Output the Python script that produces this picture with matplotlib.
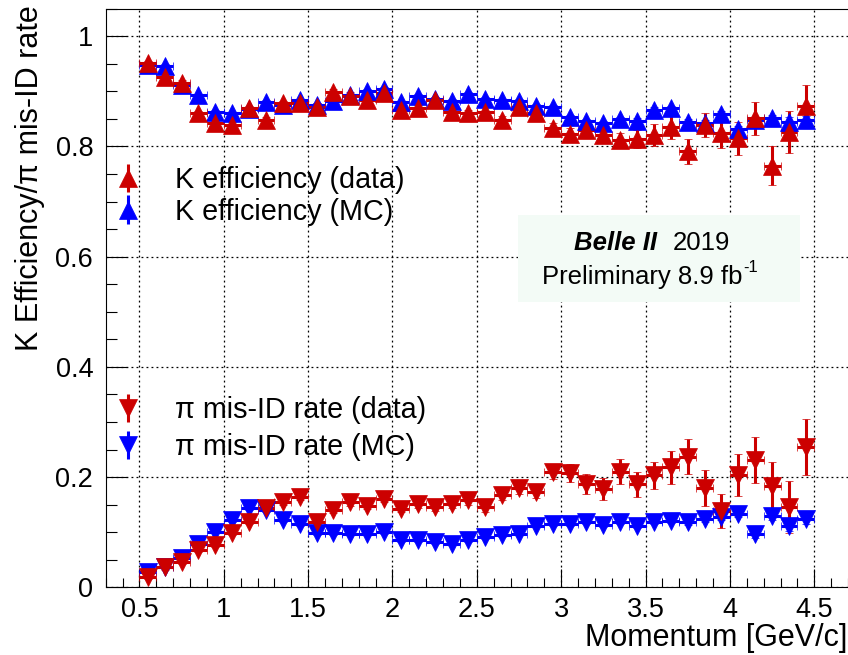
import matplotlib
matplotlib.use("Agg")
import matplotlib.pyplot as plt
from matplotlib.patches import Rectangle
from matplotlib.ticker import MultipleLocator, FixedLocator

plt.rcParams['font.family'] = ['Liberation Sans', 'DejaVu Sans']

# Momentum bin centres [GeV/c], bin width 0.1
momentum = [0.55, 0.65, 0.75, 0.85, 0.95, 1.05, 1.15, 1.25, 1.35, 1.45,
            1.55, 1.65, 1.75, 1.85, 1.95, 2.05, 2.15, 2.25, 2.35, 2.45,
            2.55, 2.65, 2.75, 2.85, 2.95, 3.05, 3.15, 3.25, 3.35, 3.45,
            3.55, 3.65, 3.75, 3.85, 3.95, 4.05, 4.15, 4.25, 4.35, 4.45]
bin_half_width = 0.05

k_eff_data = [0.951, 0.926, 0.915, 0.860, 0.842, 0.839, 0.869, 0.848, 0.878, 0.879,
              0.872, 0.899, 0.892, 0.884, 0.897, 0.866, 0.869, 0.884, 0.863, 0.860,
              0.863, 0.848, 0.872, 0.860, 0.834, 0.823, 0.829, 0.821, 0.811, 0.814,
              0.820, 0.836, 0.791, 0.839, 0.825, 0.815, 0.851, 0.765, 0.827, 0.874]
k_eff_data_err = [0.005, 0.005, 0.005, 0.005, 0.005, 0.005, 0.005, 0.005, 0.005, 0.005,
                  0.006, 0.006, 0.006, 0.006, 0.006, 0.006, 0.006, 0.006, 0.006, 0.006,
                  0.008, 0.008, 0.008, 0.008, 0.009, 0.010, 0.011, 0.012, 0.014, 0.016,
                  0.020, 0.023, 0.023, 0.022, 0.027, 0.030, 0.030, 0.035, 0.038, 0.037]

k_eff_mc = [0.948, 0.946, 0.912, 0.893, 0.863, 0.860, 0.868, 0.881, 0.876, 0.884,
            0.876, 0.883, 0.893, 0.901, 0.905, 0.880, 0.892, 0.886, 0.883, 0.895,
            0.886, 0.884, 0.883, 0.874, 0.871, 0.854, 0.846, 0.842, 0.850, 0.847,
            0.866, 0.869, 0.845, 0.843, 0.859, 0.832, 0.848, 0.851, 0.845, 0.848]
k_eff_mc_err = [0.003, 0.003, 0.003, 0.003, 0.003, 0.003, 0.003, 0.003, 0.003, 0.003,
                0.003, 0.003, 0.003, 0.003, 0.003, 0.003, 0.003, 0.003, 0.003, 0.003,
                0.003, 0.003, 0.003, 0.003, 0.004, 0.004, 0.004, 0.004, 0.004, 0.004,
                0.005, 0.005, 0.005, 0.005, 0.006, 0.006, 0.006, 0.007, 0.008, 0.008]

pi_misid_data = [0.019, 0.036, 0.046, 0.068, 0.077, 0.098, 0.119, 0.143, 0.155, 0.163,
                 0.119, 0.140, 0.154, 0.148, 0.161, 0.142, 0.151, 0.145, 0.151, 0.158,
                 0.145, 0.168, 0.180, 0.172, 0.209, 0.207, 0.187, 0.178, 0.210, 0.187,
                 0.203, 0.218, 0.237, 0.180, 0.139, 0.204, 0.231, 0.183, 0.146, 0.255]
pi_misid_data_err = [0.004, 0.004, 0.004, 0.004, 0.004, 0.004, 0.004, 0.005, 0.005, 0.005,
                     0.005, 0.005, 0.006, 0.006, 0.006, 0.006, 0.007, 0.007, 0.007, 0.008,
                     0.008, 0.009, 0.010, 0.010, 0.012, 0.016, 0.018, 0.020, 0.022, 0.023,
                     0.025, 0.030, 0.032, 0.032, 0.031, 0.038, 0.042, 0.045, 0.047, 0.051]

pi_misid_mc = [0.027, 0.037, 0.054, 0.079, 0.101, 0.122, 0.143, 0.140, 0.122, 0.115,
               0.098, 0.098, 0.097, 0.097, 0.100, 0.085, 0.086, 0.082, 0.079, 0.085,
               0.091, 0.094, 0.097, 0.112, 0.115, 0.115, 0.118, 0.113, 0.118, 0.112,
               0.118, 0.121, 0.118, 0.124, 0.128, 0.133, 0.097, 0.130, 0.112, 0.124]
pi_misid_mc_err = [0.003, 0.003, 0.003, 0.003, 0.003, 0.003, 0.003, 0.003, 0.003, 0.003,
                   0.003, 0.003, 0.003, 0.003, 0.003, 0.003, 0.003, 0.003, 0.003, 0.003,
                   0.003, 0.003, 0.003, 0.003, 0.004, 0.004, 0.004, 0.004, 0.004, 0.004,
                   0.004, 0.005, 0.005, 0.005, 0.006, 0.006, 0.007, 0.008, 0.009, 0.010]

x_ticks = [0.5, 1.0, 1.5, 2.0, 2.5, 3.0, 3.5, 4.0, 4.5]
x_tick_labels = ["0.5", "1", "1.5", "2", "2.5", "3", "3.5", "4", "4.5"]
y_ticks = [0.0, 0.2, 0.4, 0.6, 0.8, 1.0]
y_tick_labels = ["0", "0.2", "0.4", "0.6", "0.8", "1"]

RED = "#cc0000"
BLUE = "#0000ff"
FS_TICK = 19.5
FS_LEG = 20.7
FS_TITLE = 22
MS = 13.5

fig = plt.figure(figsize=(8.48, 6.55), dpi=100)
ax = fig.add_axes([0.1246, 0.1034, 0.8754, 0.8833])
ax.set_xlim(0.3, 4.7)
ax.set_ylim(0.0, 1.05)


def draw_series(y, yerr, color, marker):
    return ax.errorbar(momentum, y, xerr=bin_half_width, yerr=yerr, fmt=marker,
                       color=color, ecolor=color, mec=color, mfc=color,
                       markersize=MS, mew=0.5, elinewidth=2.2, capsize=3,
                       capthick=2.2, zorder=3)


# MC first, data on top
draw_series(k_eff_mc, k_eff_mc_err, BLUE, "^")
draw_series(k_eff_data, k_eff_data_err, RED, "^")
draw_series(pi_misid_mc, pi_misid_mc_err, BLUE, "v")
draw_series(pi_misid_data, pi_misid_data_err, RED, "v")


def legend_handle(color, marker):
    return ax.errorbar([], [], yerr=[], fmt=marker, color=color, ecolor=color,
                       mec=color, mfc=color, markersize=MS, mew=0.5,
                       elinewidth=2.2, capsize=3, capthick=2.2)


leg_kw = dict(loc="center left", frameon=False, fontsize=FS_LEG, borderpad=0,
              borderaxespad=0, handlelength=1.0, handletextpad=1.14,
              bbox_transform=ax.transData)
leg1 = ax.legend([legend_handle(RED, "^"), legend_handle(BLUE, "^")],
                 ["K efficiency (data)", "K efficiency (MC)"],
                 bbox_to_anchor=(0.347, 0.710), labelspacing=0.13, **leg_kw)
ax.add_artist(leg1)
ax.legend([legend_handle(RED, "v"), legend_handle(BLUE, "v")],
          ["\u03c0 mis-ID rate (data)", "\u03c0 mis-ID rate (MC)"],
          bbox_to_anchor=(0.347, 0.288), labelspacing=0.31, **leg_kw)

# Experiment label box
ax.add_patch(Rectangle((2.745, 0.518), 4.418 - 2.745, 0.676 - 0.518,
                       facecolor="#f3fbf6", edgecolor="none", zorder=1))
ax.text(3.570, 0.624, "Belle II", fontsize=18.5, fontweight="bold",
        fontstyle="italic", ha="right", va="center", zorder=2)
ax.text(3.659, 0.624, "2019", fontsize=18.5, ha="left", va="center", zorder=2)
ax.text(4.074, 0.563, "Preliminary 8.9 fb", fontsize=18.5,
        ha="right", va="center", zorder=2)
ax.text(4.082, 0.580, "-1", fontsize=12, ha="left", va="center", zorder=2)

# Axes styling
ax.set_axisbelow(True)
ax.grid(True, which="major", color="black", linestyle=(0, (1.5, 2.5)),
        linewidth=0.9)
ax.xaxis.set_major_locator(FixedLocator(x_ticks))
ax.set_xticklabels(x_tick_labels)
ax.yaxis.set_major_locator(FixedLocator(y_ticks))
ax.set_yticklabels(y_tick_labels)
ax.xaxis.set_minor_locator(MultipleLocator(0.1))
ax.yaxis.set_minor_locator(MultipleLocator(0.05))
ax.tick_params(which="both", direction="in", top=False, right=False,
               width=0.8, labelsize=FS_TICK)
ax.tick_params(axis="x", which="major", length=13, pad=7)
ax.tick_params(axis="x", which="minor", length=6.5)
ax.tick_params(axis="y", which="major", length=15, pad=9)
ax.tick_params(axis="y", which="minor", length=8)
ax.spines["right"].set_visible(False)
for s in ("left", "bottom", "top"):
    ax.spines[s].set_linewidth(0.8)

fig.text(30 / 848, 1 - 5 / 655, "K Efficiency/\u03c0 mis-ID rate", rotation=90,
         ha="center", va="top", fontsize=FS_TITLE)
fig.text(0.999, 17 / 655, "Momentum [GeV/c]", ha="right", va="center",
         fontsize=FS_TITLE)

fig.savefig("out.png", dpi=100)
